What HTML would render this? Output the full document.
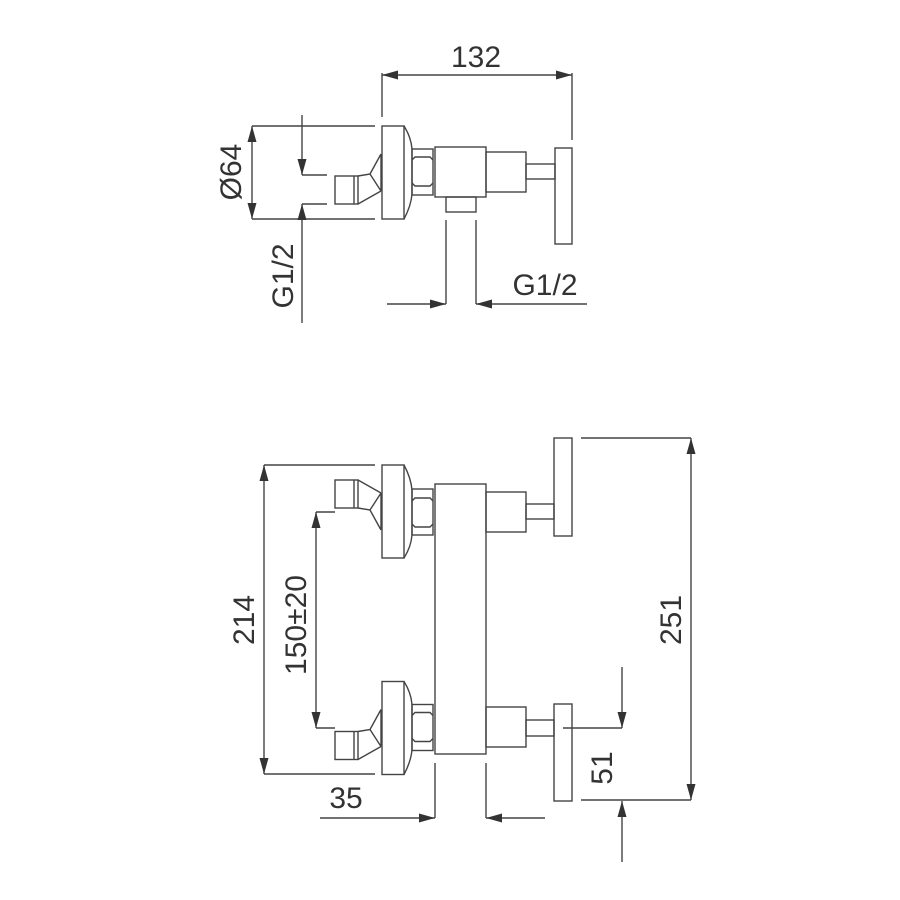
<!DOCTYPE html>
<html><head><meta charset="utf-8"><style>
html,body{margin:0;padding:0;background:#fff}
svg{display:block}
text{font-family:"Liberation Sans",Arial,sans-serif;font-size:30px;fill:#333}
</style></head><body>
<svg width="900" height="900" viewBox="0 0 900 900" xmlns="http://www.w3.org/2000/svg">
<defs>
<marker id="a" markerWidth="16" markerHeight="9" refX="16" refY="4.5" orient="auto-start-reverse" markerUnits="userSpaceOnUse"><path d="M0,0 L16,4.5 L0,9z" fill="#333"/></marker>
<g id="fit" fill="none" stroke="#444" stroke-width="1.4">
<rect x="335" y="480" width="23" height="28"/>
<line x1="354" y1="480" x2="354" y2="508"/>
<path d="M358,480 L381,493 M358,508 L370,510 L381,493 M370,510 L381,530 M381,493 L381,530"/>
<rect x="382" y="465" width="22" height="93"/>
<path d="M404,465 Q411,478 412,490 L412,535 Q411,547 404,558"/>
<rect x="412" y="489" width="21" height="46"/>
<path d="M412,501 L415,498 L430,498 L433,501 M412,524 L415,527 L430,527 L433,524"/>
</g>
</defs>
<g fill="none" stroke="#444" stroke-width="1.4">
<use href="#fit" transform="translate(0,684) scale(1,-1)"/>
<rect x="435" y="147" width="51" height="50"/>
<rect x="446" y="197" width="30" height="15"/>
<rect x="486" y="152" width="40" height="40"/>
<rect x="526" y="164" width="29" height="15"/>
<rect x="555" y="148" width="17" height="96"/>
<line x1="382" y1="73" x2="382" y2="117"/>
<line x1="572" y1="73" x2="572" y2="140"/>
<line x1="382" y1="75" x2="572" y2="75" marker-start="url(#a)" marker-end="url(#a)"/>
<line x1="252" y1="126" x2="375" y2="126"/>
<line x1="252" y1="219" x2="375" y2="219"/>
<line x1="252" y1="126" x2="252" y2="219" marker-start="url(#a)" marker-end="url(#a)"/>
<line x1="302" y1="115" x2="302" y2="175" marker-end="url(#a)"/>
<line x1="302" y1="175" x2="327" y2="175"/>
<line x1="302" y1="204" x2="327" y2="204"/>
<line x1="302" y1="323" x2="302" y2="204" marker-end="url(#a)"/>
<line x1="446" y1="220" x2="446" y2="304"/>
<line x1="476" y1="220" x2="476" y2="304"/>
<line x1="387" y1="304" x2="446" y2="304" marker-end="url(#a)"/>
<line x1="587" y1="304" x2="476" y2="304" marker-end="url(#a)"/>

<use href="#fit"/>
<use href="#fit" transform="translate(0,1239.5) scale(1,-1)"/>
<rect x="435" y="484" width="51" height="270"/>
<rect x="486" y="492" width="40" height="40"/>
<rect x="526" y="504" width="28" height="15"/>
<rect x="554" y="438" width="18" height="98"/>
<rect x="486" y="707" width="40" height="40"/>
<rect x="526" y="720" width="28" height="16"/>
<rect x="554" y="704" width="18" height="97"/>
<line x1="264" y1="465" x2="375" y2="465"/>
<line x1="264" y1="774" x2="375" y2="774"/>
<line x1="264" y1="465" x2="264" y2="774" marker-start="url(#a)" marker-end="url(#a)"/>
<line x1="316" y1="512" x2="335" y2="512"/>
<line x1="316" y1="728" x2="335" y2="728"/>
<line x1="316" y1="512" x2="316" y2="728" marker-start="url(#a)" marker-end="url(#a)"/>
<line x1="581" y1="438" x2="691" y2="438"/>
<line x1="581" y1="800" x2="691" y2="800"/>
<line x1="691" y1="438" x2="691" y2="800" marker-start="url(#a)" marker-end="url(#a)"/>
<line x1="563" y1="728" x2="622" y2="728"/>
<line x1="622" y1="667" x2="622" y2="728" marker-end="url(#a)"/>
<line x1="622" y1="862" x2="622" y2="801" marker-end="url(#a)"/>
<line x1="435" y1="763" x2="435" y2="818"/>
<line x1="486" y1="763" x2="486" y2="818"/>
<line x1="320" y1="818" x2="435" y2="818" marker-end="url(#a)"/>
<line x1="545" y1="818" x2="486" y2="818" marker-end="url(#a)"/>
</g>
<text x="476" y="67" text-anchor="middle">132</text>
<text transform="translate(241,172) rotate(-90)" text-anchor="middle">Ø64</text>
<text transform="translate(293,276) rotate(-90)" text-anchor="middle">G1/2</text>
<text x="545" y="295" text-anchor="middle">G1/2</text>
<text transform="translate(254,620) rotate(-90)" text-anchor="middle">214</text>
<text transform="translate(306,625) rotate(-90)" text-anchor="middle">150±20</text>
<text transform="translate(681,620) rotate(-90)" text-anchor="middle">251</text>
<text transform="translate(612,768) rotate(-90)" text-anchor="middle">51</text>
<text x="346" y="808" text-anchor="middle">35</text>
</svg>
</body></html>
